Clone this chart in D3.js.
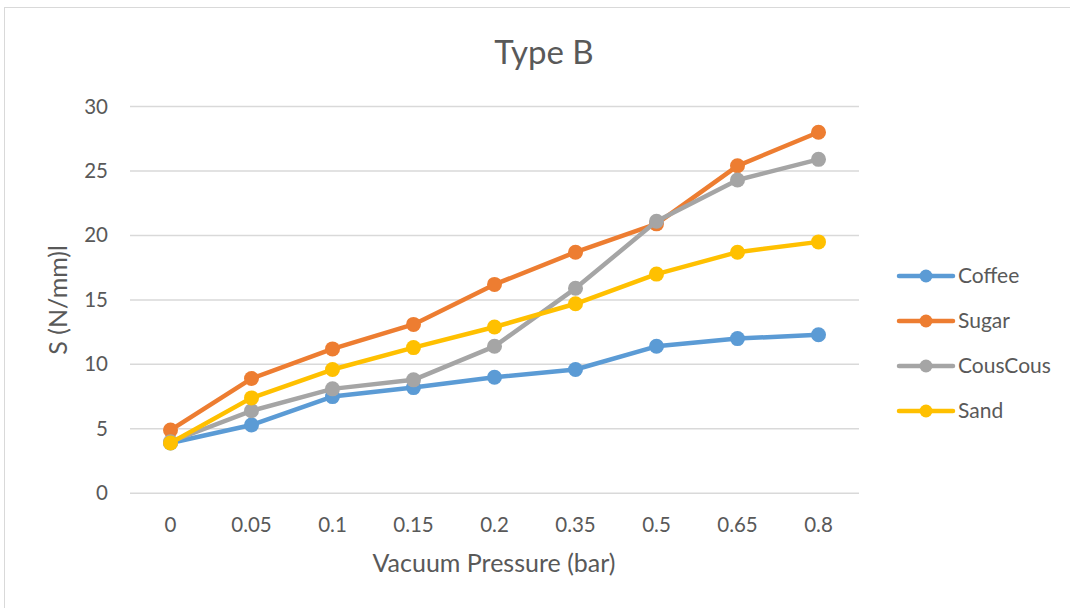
<!DOCTYPE html>
<html>
<head>
<meta charset="utf-8">
<script src="https://cdn.jsdelivr.net/npm/d3@7"></script>
<style>
  html, body { margin: 0; padding: 0; background: #fff; }
  svg { display: block; font-family: "Lato", "Open Sans", sans-serif; }
</style>
</head>
<body>
<svg id="chart" width="1070" height="608"></svg>
<script>
// Vacuum pressure categories (bar)
const pressures = ["0", "0.05", "0.1", "0.15", "0.2", "0.35", "0.5", "0.65", "0.8"];

// S (N/mm) for each granular filler
const coffee   = [3.9, 5.3, 7.5, 8.2, 9.0, 9.6, 11.4, 12.0, 12.3];
const sugar    = [4.9, 8.9, 11.2, 13.1, 16.2, 18.7, 20.9, 25.4, 28.0];
const couscous = [4.0, 6.4, 8.1, 8.8, 11.4, 15.9, 21.1, 24.3, 25.9];
const sand     = [3.9, 7.4, 9.6, 11.3, 12.9, 14.7, 17.0, 18.7, 19.5];

const yTicks = [0, 5, 10, 15, 20, 25, 30];

const seriesNames  = ["Coffee", "Sugar", "CousCous", "Sand"];
const seriesValues = [coffee, sugar, couscous, sand];
const seriesColors = ["#5B9BD5", "#ED7D31", "#A5A5A5", "#FFC000"];

const series = seriesNames.map((name, i) => ({
  name, color: seriesColors[i],
  points: pressures.map((p, j) => ({ p, v: seriesValues[i][j] }))
}));

const svg = d3.select("#chart");
const textColor = "#595959";
const gridColor = "#D9D9D9";

// Chart area frame
svg.append("rect")
  .attr("x", 4.5).attr("y", 7.5)
  .attr("width", 1080).attr("height", 620)
  .attr("fill", "#fff").attr("stroke", gridColor).attr("stroke-width", 1);

const plot = { left: 130, right: 859, top: 106.5, bottom: 493.3 };

const x = d3.scaleBand().domain(pressures).range([plot.left, plot.right]);
const y = d3.scaleLinear().domain([0, 30]).range([plot.bottom, plot.top]);

// Horizontal gridlines
svg.append("g")
  .selectAll("line")
  .data(yTicks)
  .join("line")
  .attr("x1", plot.left).attr("x2", plot.right)
  .attr("y1", d => y(d)).attr("y2", d => y(d))
  .attr("stroke", gridColor).attr("stroke-width", 1.5);

// Y axis tick labels
const yAxis = svg.append("g")
  .attr("transform", `translate(${plot.left - 22},0)`)
  .call(d3.axisLeft(y).tickValues(yTicks).tickSize(0).tickPadding(0));
yAxis.select(".domain").remove();
yAxis.selectAll("text")
  .attr("fill", textColor).attr("font-size", 20.5)
  .attr("font-family", "Lato, 'Open Sans', sans-serif");

// X axis tick labels
const xAxis = svg.append("g")
  .attr("transform", `translate(0,${plot.bottom + 24})`)
  .call(d3.axisBottom(x).tickSize(0).tickPadding(0));
xAxis.select(".domain").remove();
xAxis.selectAll("text")
  .attr("fill", textColor).attr("font-size", 20.5)
  .attr("font-family", "Lato, 'Open Sans', sans-serif");

// Title
svg.append("text")
  .attr("x", 544).attr("y", 64)
  .attr("text-anchor", "middle")
  .attr("fill", textColor).attr("font-size", 33)
  .text("Type B");

// Axis titles
svg.append("text")
  .attr("x", 494).attr("y", 572)
  .attr("text-anchor", "middle")
  .attr("fill", textColor).attr("font-size", 25)
  .text("Vacuum Pressure (bar)");

svg.append("text")
  .attr("transform", `translate(67,${(plot.top + plot.bottom) / 2}) rotate(-90)`)
  .attr("text-anchor", "middle")
  .attr("fill", textColor).attr("font-size", 25)
  .text("S (N/mm)l");

// Lines and markers
const line = d3.line()
  .x(d => x(d.p) + x.bandwidth() / 2)
  .y(d => y(d.v));

const g = svg.append("g");
series.forEach(s => {
  const sg = g.append("g");
  sg.append("path")
    .datum(s.points)
    .attr("d", line)
    .attr("fill", "none")
    .attr("stroke", s.color)
    .attr("stroke-width", 4.5)
    .attr("stroke-linejoin", "round")
    .attr("stroke-linecap", "round");
  sg.selectAll("circle")
    .data(s.points)
    .join("circle")
    .attr("cx", d => x(d.p) + x.bandwidth() / 2)
    .attr("cy", d => y(d.v))
    .attr("r", 7.5)
    .attr("fill", s.color);
});

// Legend
const legend = svg.append("g");
series.forEach((s, i) => {
  const ly = 276 + i * 45;
  legend.append("line")
    .attr("x1", 899).attr("x2", 953)
    .attr("y1", ly).attr("y2", ly)
    .attr("stroke", s.color).attr("stroke-width", 4.5)
    .attr("stroke-linecap", "round");
  legend.append("circle")
    .attr("cx", 926).attr("cy", ly).attr("r", 6.5)
    .attr("fill", s.color);
  legend.append("text")
    .attr("x", 958).attr("y", ly)
    .attr("dy", "0.35em")
    .attr("fill", textColor).attr("font-size", 21)
    .text(s.name);
});
</script>
</body>
</html>
